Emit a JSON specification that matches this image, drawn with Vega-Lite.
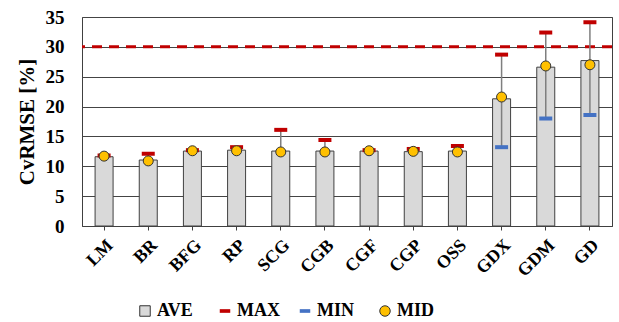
{
  "$schema": "https://vega.github.io/schema/vega-lite/v6.json",
  "width": 530,
  "height": 209,
  "autosize": {"type": "none"},
  "padding": {"left": 82, "top": 17, "right": 7, "bottom": 96},
  "background": "white",
  "config": {
    "font": "Liberation Serif",
    "view": {"stroke": "#404040", "strokeWidth": 1},
    "axis": {"labelFont": "Liberation Serif", "titleFont": "Liberation Serif"},
    "axisY": {
      "labelOverlap": false,
      "titleFont": "Liberation Serif",
      "titleFontWeight": "bold",
      "titleFontSize": 21,
      "titleColor": "black",
      "titlePadding": 8,
      "labelFont": "Liberation Serif",
      "labelFontWeight": "bold",
      "labelFontSize": 19,
      "labelColor": "black",
      "labelPadding": 18,
      "tickSize": 0,
      "ticks": false,
      "domain": false,
      "grid": true,
      "gridColor": "#444",
      "gridWidth": 1
    },
    "legend": {"labelFont": "Liberation Serif"}
  },
  "data": {
    "values": [
      {"model": "LM", "AVE": 11.6, "MAX": 11.8, "MIN": null, "MID": 11.7},
      {"model": "BR", "AVE": 11.05, "MAX": 12.1, "MIN": null, "MID": 10.9},
      {"model": "BFG", "AVE": 12.55, "MAX": 12.7, "MIN": null, "MID": 12.6},
      {"model": "RP", "AVE": 12.7, "MAX": 13.2, "MIN": null, "MID": 12.6},
      {"model": "SCG", "AVE": 12.55, "MAX": 16.1, "MIN": null, "MID": 12.4},
      {"model": "CGB", "AVE": 12.55, "MAX": 14.4, "MIN": null, "MID": 12.4},
      {"model": "CGF", "AVE": 12.55, "MAX": 12.7, "MIN": null, "MID": 12.6},
      {"model": "CGP", "AVE": 12.45, "MAX": 12.9, "MIN": null, "MID": 12.5},
      {"model": "OSS", "AVE": 12.55, "MAX": 13.4, "MIN": null, "MID": 12.4},
      {"model": "GDX", "AVE": 21.3, "MAX": 28.7, "MIN": 13.2, "MID": 21.6},
      {"model": "GDM", "AVE": 26.6, "MAX": 32.4, "MIN": 18.0, "MID": 26.8},
      {"model": "GD", "AVE": 27.7, "MAX": 34.1, "MIN": 18.6, "MID": 27.0}
    ]
  },
  "encoding": {
    "x": {
      "field": "model",
      "type": "nominal",
      "sort": null,
      "scale": {"paddingInner": 0, "paddingOuter": 0},
      "axis": {
        "title": null,
        "labelAngle": -45,
        "labelFont": "Liberation Serif",
        "labelFontWeight": "bold",
        "labelFontSize": 18,
        "labelColor": "black",
        "labelPadding": 6,
        "tickSize": 4,
        "tickColor": "#404040",
        "domainColor": "#404040",
        "grid": false
      }
    }
  },
  "layer": [
    {
      "mark": {"type": "bar", "width": 18, "stroke": "#404040", "strokeWidth": 1, "color": "#d9d9d9"},
      "encoding": {
        "y": {
          "field": "AVE",
          "type": "quantitative",
          "scale": {"domain": [0, 35], "nice": false},
          "axis": {"values": [0, 5, 10, 15, 20, 25, 30, 35], "title": "CvRMSE [%]"}
        }
      }
    },
    {
      "data": {"values": [{"y": 30}]},
      "mark": {"type": "rule", "color": "#c00000", "strokeWidth": 3, "strokeDash": [10, 7]},
      "encoding": {"y": {"field": "y", "type": "quantitative", "axis": {"values": [0, 5, 10, 15, 20, 25, 30, 35], "title": "CvRMSE [%]"}}, "x": null}
    },
    {
      "mark": {"type": "rule", "color": "#7f7f7f", "strokeWidth": 1.5},
      "encoding": {
        "y": {"field": "AVE", "type": "quantitative", "axis": {"values": [0, 5, 10, 15, 20, 25, 30, 35], "title": "CvRMSE [%]"}},
        "y2": {"field": "MAX"}
      }
    },
    {
      "transform": [{"filter": "isValid(datum.MIN)"}],
      "mark": {"type": "rule", "color": "#7f7f7f", "strokeWidth": 1.5},
      "encoding": {
        "y": {"field": "MIN", "type": "quantitative", "axis": {"values": [0, 5, 10, 15, 20, 25, 30, 35], "title": "CvRMSE [%]"}},
        "y2": {"field": "AVE"}
      }
    },
    {
      "mark": {"type": "tick", "thickness": 4, "size": 13, "opacity": 1, "color": "#c00000"},
      "encoding": {
        "y": {"field": "MAX", "type": "quantitative", "axis": {"values": [0, 5, 10, 15, 20, 25, 30, 35], "title": "CvRMSE [%]"}}
      }
    },
    {
      "transform": [{"filter": "isValid(datum.MIN)"}],
      "mark": {"type": "tick", "thickness": 4, "size": 13, "opacity": 1, "color": "#4472c4"},
      "encoding": {
        "y": {"field": "MIN", "type": "quantitative", "axis": {"values": [0, 5, 10, 15, 20, 25, 30, 35], "title": "CvRMSE [%]"}}
      }
    },
    {
      "mark": {"type": "point", "filled": true, "size": 100, "stroke": "#333333", "strokeWidth": 1, "opacity": 1, "color": "#ffc000"},
      "encoding": {
        "y": {"field": "MID", "type": "quantitative", "axis": {"values": [0, 5, 10, 15, 20, 25, 30, 35], "title": "CvRMSE [%]"}}
      }
    },
    {
      "data": {"values": [{"series": "AVE"}, {"series": "MAX"}, {"series": "MIN"}, {"series": "MID"}]},
      "mark": {"type": "point", "filled": true, "opacity": 0, "size": 110},
      "encoding": {
        "x": null,
        "color": {
          "field": "series",
          "type": "nominal",
          "sort": null,
          "scale": {
            "domain": ["AVE", "MAX", "MIN", "MID"],
            "range": ["#d9d9d9", "#c00000", "#4472c4", "#ffc000"]
          },
          "legend": {
            "orient": "none",
            "legendX": 54,
            "legendY": 285,
            "direction": "horizontal",
            "title": null,
            "gridAlign": "all",
            "columnPadding": 16,
            "symbolSize": 110,
            "symbolOpacity": 1,
            "labelOffset": 3,
            "labelFont": "Liberation Serif",
            "labelFontWeight": "bold",
            "labelFontSize": 18,
            "labelColor": "black",
            "encode": {
              "symbols": {
                "update": {
                  "opacity": {"value": 1},
                  "stroke": {"signal": "datum.value == 'MID' || datum.value == 'AVE' ? '#333333' : 'transparent'"},
                  "strokeWidth": {"value": 1}
                }
              }
            }
          }
        },
        "shape": {
          "field": "series",
          "type": "nominal",
          "sort": null,
          "scale": {
            "domain": ["AVE", "MAX", "MIN", "MID"],
            "range": ["square", "M-1,-0.35H1V0.35H-1Z", "M-1,-0.35H1V0.35H-1Z", "circle"]
          },
          "legend": {
            "orient": "none",
            "legendX": 54,
            "legendY": 285,
            "direction": "horizontal",
            "title": null,
            "gridAlign": "all",
            "columnPadding": 16,
            "symbolSize": 110,
            "labelFont": "Liberation Serif",
            "labelFontWeight": "bold",
            "labelFontSize": 18
          }
        }
      }
    }
  ]
}
